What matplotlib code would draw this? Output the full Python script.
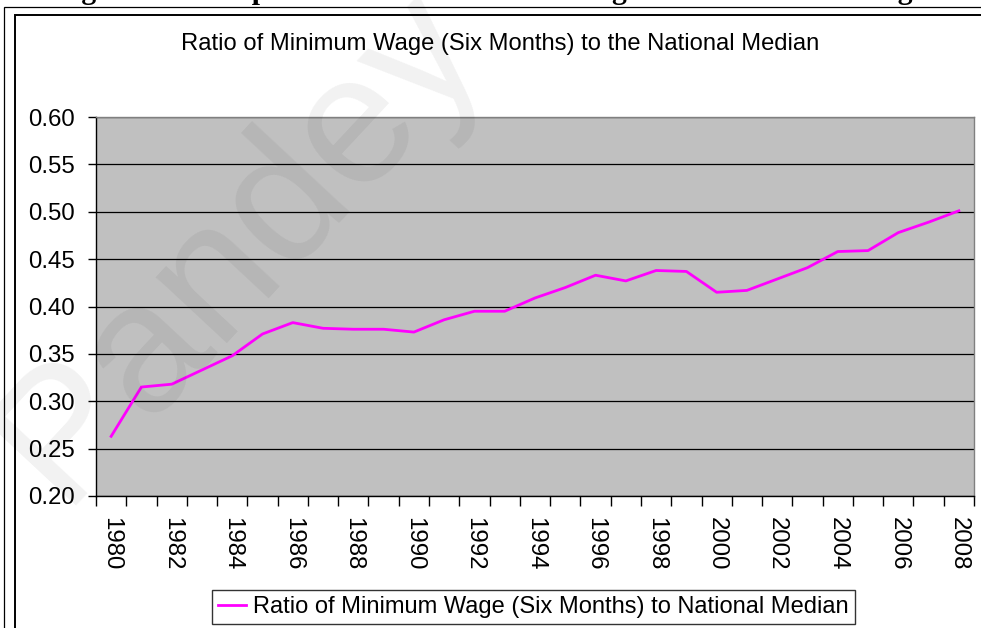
import matplotlib
matplotlib.use('Agg')
import matplotlib.pyplot as plt
import numpy as np
from matplotlib.lines import Line2D
from matplotlib.patches import Rectangle

# ---- data ----
years = [1980, 1981, 1982, 1983, 1984, 1985, 1986, 1987, 1988, 1989,
         1990, 1991, 1992, 1993, 1994, 1995, 1996, 1997, 1998, 1999,
         2000, 2001, 2002, 2003, 2004, 2005, 2006, 2007, 2008]
ratio = [0.263, 0.315, 0.318, 0.333, 0.348, 0.371, 0.383, 0.377, 0.376, 0.376,
         0.373, 0.386, 0.395, 0.395, 0.409, 0.420, 0.433, 0.427, 0.438, 0.437,
         0.415, 0.417, 0.429, 0.441, 0.458, 0.459, 0.478, 0.489, 0.501]
yticks = [0.20, 0.25, 0.30, 0.35, 0.40, 0.45, 0.50, 0.55, 0.60]
ytick_labels = ['0.20', '0.25', '0.30', '0.35', '0.40', '0.45', '0.50', '0.55', '0.60']
series_label = 'Ratio of Minimum Wage (Six Months) to National Median'
chart_title = 'Ratio of Minimum Wage (Six Months) to the National Median'
doc_title = 'Figure 4.1 Comparison of the Minimum Wage and the Median Wage'
watermark = 'Pandey'

plt.rcParams['font.family'] = ['Liberation Sans', 'DejaVu Sans']

W, H = 981, 628
fig = plt.figure(figsize=(W / 100, H / 100), dpi=100)
fig.patch.set_facecolor('white')

# plot area
left, right, top, bottom = 96, 974, 117, 496
ax = fig.add_axes([left / W, 1 - bottom / H, (right - left) / W, (bottom - top) / H])
ax.set_facecolor('#C0C0C0')

xpos = np.arange(len(years))
ax.plot(xpos, ratio, color='#FF00FF', lw=2.0, zorder=3)

ax.set_xlim(-0.5, len(years) - 0.5)
ax.set_ylim(yticks[0], yticks[-1])

ax.set_yticks(yticks)
ax.set_yticklabels(ytick_labels)
ax.yaxis.grid(True, color='black', lw=0.9)
ax.set_axisbelow(True)

ax.set_xticks(np.arange(-0.5, len(years), 1.0))
ax.set_xticklabels([])
label_idx = [i for i, y in enumerate(years) if y % 2 == 0]
ax.set_xticks(label_idx, minor=True)
ax.set_xticklabels([str(years[i]) for i in label_idx], minor=True)

ax.tick_params(axis='x', which='major', length=7, width=1, direction='out', color='black')
ax.tick_params(axis='x', which='minor', length=0, pad=15, labelsize=17.3, labelrotation=-90)
ax.tick_params(axis='y', length=6, width=1, direction='out', pad=9.0, labelsize=17.3)

for s in ['left', 'bottom']:
    ax.spines[s].set_color('black')
    ax.spines[s].set_linewidth(1.0)
for s in ['top', 'right']:
    ax.spines[s].set_color('#808080')
    ax.spines[s].set_linewidth(1.0)

# chart title
fig.text(500 / W, 1 - 50 / H, chart_title, ha='center', va='baseline', fontsize=17.1)

# legend
handle = Line2D([], [], color='#FF00FF', lw=2.0)
leg = fig.legend([handle], [series_label], loc='center',
                 bbox_to_anchor=(533.5 / W, 1 - 607 / H), fontsize=17,
                 frameon=True, fancybox=False, handlelength=1.2, handletextpad=0.3,
                 borderpad=0.25, borderaxespad=0)
leg.get_frame().set_edgecolor('black')
leg.get_frame().set_linewidth(1.0)

# frames
fig.add_artist(Rectangle((4 / W, -0.1), 1.2, (1 - 7 / H) + 0.1, transform=fig.transFigure,
                         fill=False, ec='black', lw=0.9))
fig.add_artist(Rectangle((15 / W, -0.1), 1.2, (1 - 15 / H) + 0.1, transform=fig.transFigure,
                         fill=False, ec='black', lw=1.4))

# cut-off document title (only its lower edge shows)
fig.text(490 / W, 1 + 1.0 / H, doc_title, ha='center', va='baseline',
         fontfamily=['Liberation Serif', 'DejaVu Serif'], fontweight='bold', fontsize=21.4)

# watermark
fig.text(61 / W, 1 - 505 / H, watermark, ha='left', va='baseline', rotation=47,
         rotation_mode='anchor', fontsize=132.5, color=(0, 0, 0, 0.055), zorder=10)

fig.savefig('out.png', dpi=100)
